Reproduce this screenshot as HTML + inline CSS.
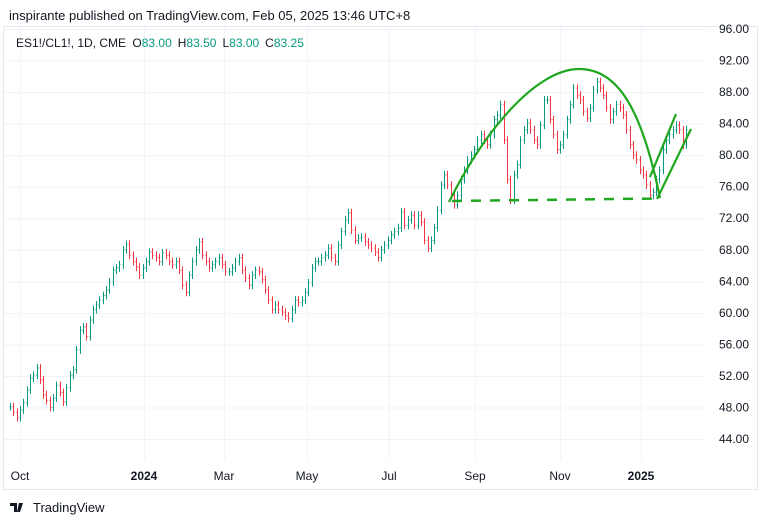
<!DOCTYPE html>
<html><head><meta charset="utf-8"><style>
body{margin:0;background:#fff;font-family:"Liberation Sans",sans-serif;}
#wrap{position:relative;width:768px;height:524px;overflow:hidden;}
</style></head><body>
<div id="wrap">
<svg id="chart" width="768" height="524" xmlns="http://www.w3.org/2000/svg">
<text x="9" y="20" font-size="13" fill="#131722">inspirante published on TradingView.com, Feb 05, 2025 13:46 UTC+8</text>
<rect x="3.5" y="26.5" width="754" height="463" fill="none" stroke="#e6e8ee"/>
<g id="grid"></g>
<g id="bars"></g>
<g fill="none" stroke="#1fa81f" stroke-width="2.2">
<path d="M449,202 C490,120 540,70 578,69 C618,68 642,110 660,198"/>
<line x1="452" y1="201" x2="658" y2="198.5" stroke-dasharray="10,9" stroke-width="2.5"/>
<line x1="650" y1="177" x2="676" y2="114"/>
<line x1="657" y1="199" x2="691" y2="129"/>
</g>
<g id="yaxis"></g>
<g id="xaxis"></g>
<text x="16" y="47" font-size="12" fill="#131722">ES1!/CL1!, 1D, CME <tspan dx="3">O</tspan><tspan fill="#089981">83.00</tspan><tspan dx="6">H</tspan><tspan fill="#089981">83.50</tspan><tspan dx="6">L</tspan><tspan fill="#089981">83.00</tspan><tspan dx="6">C</tspan><tspan fill="#089981">83.25</tspan></text>
<g>
<path d="M10,503 h7 v9 h-3 v-6 h-4z M19,503 h4 l-3,9 h-3z" fill="#131722"/>
<circle cx="20" cy="505" r="1.5" fill="#131722"/>
<text x="33" y="512" font-size="13" fill="#131722">TradingView</text>
</g>
</svg>
</div>
<script>
const closes=[48.1,47.4,46.7,47.7,48.6,50.2,51.7,52.1,53.0,51.5,49.6,48.9,48.0,49.2,50.8,49.9,48.7,50.5,52.1,52.8,55.3,57.8,58.2,57.0,59.1,60.4,61.0,61.6,62.2,62.9,63.9,65.4,65.7,66.1,68.0,68.7,67.3,66.5,65.8,64.8,65.7,66.5,67.7,67.3,67.0,66.5,67.6,67.3,66.5,66.1,66.5,65.4,63.5,62.6,64.8,66.5,68.0,69.0,67.3,66.5,65.7,66.1,66.5,67.0,66.1,65.2,65.2,65.7,66.5,67.0,65.4,64.4,63.5,64.8,65.4,65.2,64.2,62.9,61.6,60.4,61.0,60.4,60.1,59.6,59.3,60.4,61.6,61.3,61.6,62.6,63.8,65.7,66.5,66.5,67.0,67.3,68.2,67.0,66.5,68.6,70.3,71.8,72.7,70.5,69.2,69.5,69.6,69.0,68.6,68.2,67.7,67.0,68.0,68.6,69.2,69.9,70.3,70.8,72.8,71.1,71.8,72.4,71.1,72.4,71.5,69.2,68.2,69.2,70.8,73.0,76.2,77.5,76.2,74.9,73.7,74.9,76.9,78.1,79.4,80.0,80.7,81.9,82.6,81.9,81.3,82.6,84.5,85.1,86.4,81.9,76.9,74.3,77.5,78.8,81.9,83.2,84.1,83.2,81.9,81.3,83.8,87.0,87.0,84.5,82.6,80.7,81.3,82.6,84.5,86.4,88.5,87.6,87.0,85.5,84.7,86.0,88.3,89.3,88.5,87.6,86.0,84.5,85.5,86.4,86.0,85.1,83.2,81.3,80.0,79.4,78.1,77.5,76.2,74.9,75.3,76.9,78.1,80.7,81.9,82.6,83.2,83.8,83.2,81.3,83.25];
const priceTicks=[96,92,88,84,80,76,72,68,64,60,56,52,48,44];
const timeLabels=["Oct","2024","Mar","May","Jul","Sep","Nov","2025"];
const timeBold=[false,true,false,false,false,false,false,true];
const timeX=[20,144,224,307,389,475,560,641];
const NS="http://www.w3.org/2000/svg";
function y(p){return 29+(96-p)*7.885;}
const x0=10,x1=686;
function x(i){return x0+(x1-x0)*i/(closes.length-1);}
function el(t,a,parent){const e=document.createElementNS(NS,t);for(const k in a)e.setAttribute(k,a[k]);parent.appendChild(e);return e;}
const grid=document.getElementById('grid'),bars=document.getElementById('bars'),ya=document.getElementById('yaxis'),xa=document.getElementById('xaxis');
priceTicks.forEach(p=>{
 const l=el('line',{x1:4,x2:706,y1:y(p)+.5,y2:y(p)+.5,stroke:'#f0f3fa'},grid);
 
 
 const t=el('text',{x:749,y:y(p)+4,'font-size':12,fill:'#131722','text-anchor':'end'},ya);
 t.textContent=p.toFixed(2);
 
 
});
timeLabels.forEach((s,i)=>{
 const l=el('line',{x1:timeX[i]+.5,x2:timeX[i]+.5,y1:27,y2:460,stroke:'#f0f3fa'},grid);
 
 
 const t=el('text',{x:timeX[i],y:480,'font-size':12,fill:'#131722','text-anchor':'middle','font-weight':timeBold[i]?'bold':'normal'},xa);
 t.textContent=s;
 
 
});
closes.forEach((c,i)=>{
 const o=i?closes[i-1]:c;
 const h=Math.max(o,c)+0.5,lo=Math.min(o,c)-0.5;
 const col=c>=o?'#089981':'#f23645';
 const xx=Math.round(x(i))+.5;
 const g=el('g',{stroke:col,'stroke-width':1},bars);
 
 
 el('line',{x1:xx,x2:xx,y1:y(h),y2:y(lo)},g);
 el('line',{x1:xx-1,x2:xx,y1:y(o),y2:y(o)},g);
 el('line',{x1:xx,x2:xx+1,y1:y(c),y2:y(c)},g);
});
</script>
</body></html>
